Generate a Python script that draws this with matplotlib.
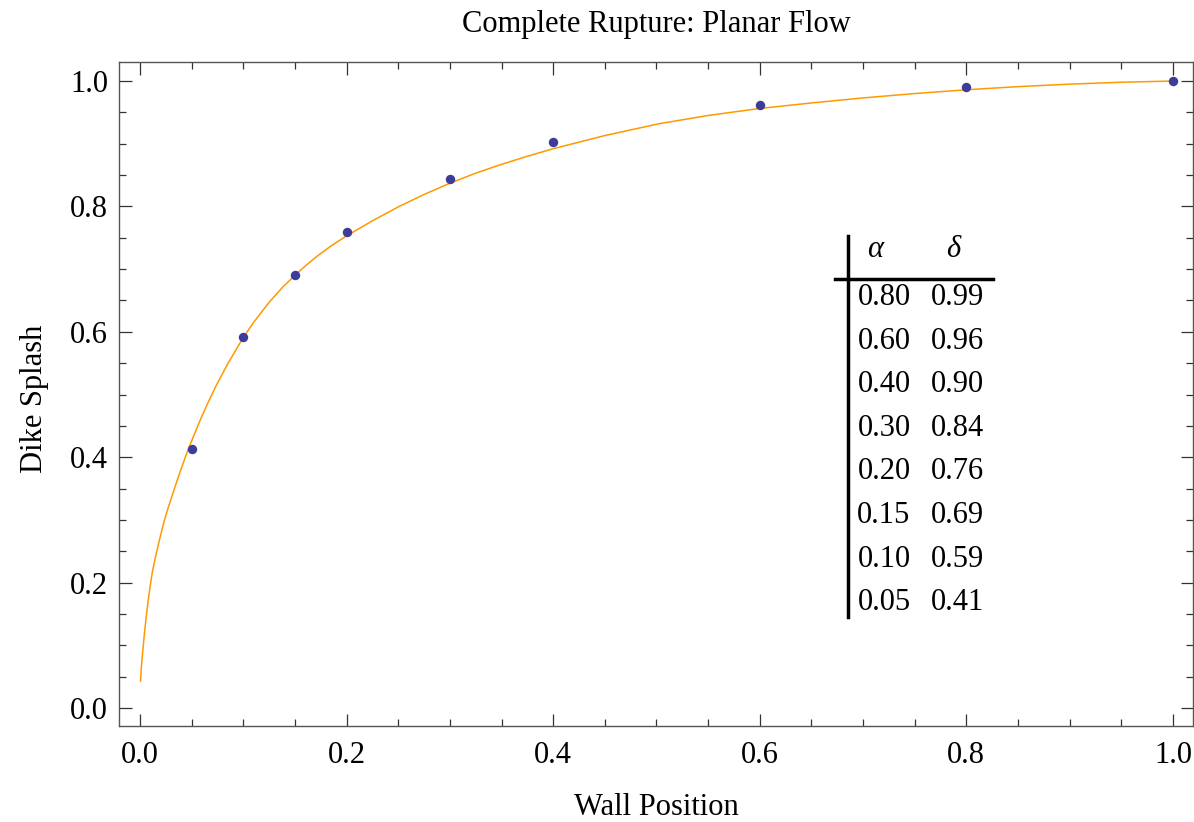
import numpy as np
import matplotlib
matplotlib.use("Agg")
import matplotlib.pyplot as plt
from matplotlib.lines import Line2D
from matplotlib.ticker import MultipleLocator

plt.rcParams['font.family'] = ['Liberation Serif', 'DejaVu Serif']

# measured points
wall_pos = [0.05, 0.10, 0.15, 0.20, 0.30, 0.40, 0.60, 0.80, 1.00]
splash = [0.413, 0.591, 0.690, 0.759, 0.843, 0.902, 0.962, 0.991, 1.000]

# fitted curve
curve_x = [0.0005, 0.0012, 0.0020, 0.0030, 0.0045, 0.006, 0.008, 0.010, 0.012,
           0.014, 0.016, 0.019, 0.022, 0.025, 0.028, 0.032, 0.036, 0.040,
           0.045, 0.050, 0.058, 0.065, 0.074, 0.085, 0.100, 0.110, 0.125,
           0.138, 0.150, 0.160, 0.171, 0.185, 0.200, 0.225, 0.251, 0.275,
           0.300, 0.325, 0.348, 0.375, 0.400, 0.450, 0.503, 0.550, 0.599,
           0.650, 0.700, 0.750, 0.800, 0.850, 0.900, 0.950, 1.000]
curve_y = [0.043, 0.062, 0.078, 0.096, 0.122, 0.145, 0.172, 0.196, 0.217,
           0.233, 0.248, 0.269, 0.289, 0.307, 0.323, 0.343, 0.363, 0.382,
           0.405, 0.426, 0.458, 0.484, 0.515, 0.549, 0.591, 0.615, 0.647,
           0.671, 0.690, 0.705, 0.720, 0.737, 0.753, 0.777, 0.800, 0.819,
           0.837, 0.853, 0.866, 0.880, 0.892, 0.913, 0.932, 0.945, 0.956,
           0.965, 0.973, 0.980, 0.986, 0.991, 0.995, 0.998, 1.000]

# inset table
table_alpha = ["0.80", "0.60", "0.40", "0.30", "0.20", "0.15", "0.10", "0.05"]
table_delta = ["0.99", "0.96", "0.90", "0.84", "0.76", "0.69", "0.59", "0.41"]

W, H = 1194, 822
fig = plt.figure(figsize=(W / 100, H / 100), dpi=100)
ax = fig.add_axes([119 / W, 1 - 726 / H, (1193 - 119) / W, (726 - 62) / H])

ax.plot(curve_x, curve_y, color='#ff9900', lw=1.1, zorder=2,
        solid_joinstyle='round')
ax.plot(wall_pos, splash, 'o', color='#3d3d99', ms=6.8, mec='none', zorder=3)

ax.set_xlim(-0.0203, 1.0194)
ax.set_ylim(-0.0287, 1.0303)
ax.xaxis.set_major_locator(MultipleLocator(0.2))
ax.xaxis.set_minor_locator(MultipleLocator(0.05))
ax.yaxis.set_major_locator(MultipleLocator(0.2))
ax.yaxis.set_minor_locator(MultipleLocator(0.05))
ax.tick_params(which='both', direction='in', top=True, right=True,
               color='#333333', width=0.9, labelsize=22)
ax.tick_params(which='major', length=9)
ax.tick_params(which='minor', length=5)
ax.tick_params(axis='x', pad=11)
ax.tick_params(axis='y', pad=8)
for s in ax.spines.values():
    s.set_color('#555555')
    s.set_linewidth(1.0)

def fx(px):
    return px / W

def fy(py):
    return 1 - py / H

fig.text(fx(656), fy(32), "Complete Rupture: Planar Flow", ha='center', va='baseline', fontsize=22)
fig.text(fx(656), fy(815), "Wall Position", ha='center', va='baseline', fontsize=22)
fig.text(fx(35), fy(399), "Dike Splash", rotation=90, ha='center', va='center', fontsize=22)

# table lines
fig.add_artist(Line2D([fx(848), fx(848)], [fy(236), fy(617)], color='black', lw=2.5))
fig.add_artist(Line2D([fx(835), fx(993)], [fy(279), fy(279)], color='black', lw=2.5))

fig.text(fx(875), fy(257), "α", style='italic', ha='center', va='baseline', fontsize=22)
fig.text(fx(953), fy(257), "δ", style='italic', ha='center', va='baseline', fontsize=22)
for i in range(len(table_alpha)):
    yb = fy(305 + i * 43.6)
    fig.text(fx(884), yb, table_alpha[i], ha='center', va='baseline', fontsize=22)
    fig.text(fx(957), yb, table_delta[i], ha='center', va='baseline', fontsize=22)

fig.savefig("out.png", dpi=100)
